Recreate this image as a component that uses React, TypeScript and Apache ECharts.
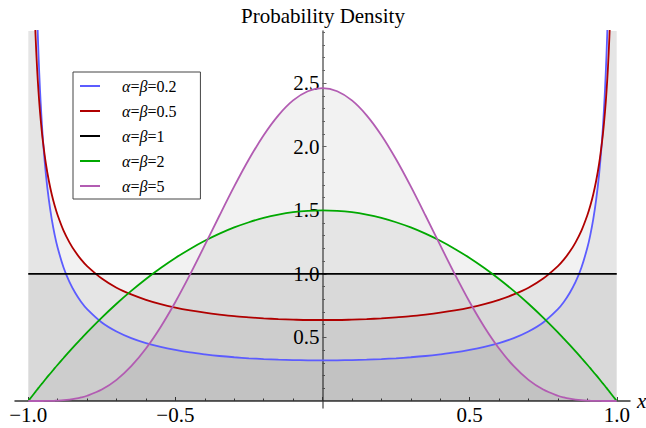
import React, { useEffect, useRef } from "react";
import * as echarts from "echarts";

// x positions (shared by every curve)
const xs = [
  -1, -0.99, -0.98, -0.975, -0.97, -0.965, -0.96, -0.955, -0.95, -0.94, -0.93, -0.92, -0.91, -0.9,
  -0.88, -0.86, -0.84, -0.82, -0.8, -0.75, -0.7, -0.65, -0.6, -0.55, -0.5, -0.45, -0.4, -0.35,
  -0.3, -0.25, -0.2, -0.15, -0.1, -0.05, 0,
  0.05, 0.1, 0.15, 0.2, 0.25, 0.3, 0.35, 0.4, 0.45, 0.5, 0.55, 0.6, 0.65, 0.7, 0.75, 0.8,
  0.82, 0.84, 0.86, 0.88, 0.9, 0.91, 0.92, 0.93, 0.94, 0.95, 0.955, 0.96, 0.965, 0.97, 0.975,
  0.98, 0.99, 1,
];

// α=β=0.2
const a02 = [
  20, 7.326, 4.224, 3.54, 3.067, 2.716, 2.446, 2.231, 2.054, 1.783, 1.583, 1.428, 1.305, 1.205,
  1.05, 0.936, 0.849, 0.779, 0.723, 0.618, 0.547, 0.495, 0.456, 0.426, 0.402, 0.382, 0.367, 0.354,
  0.344, 0.336, 0.33, 0.325, 0.322, 0.32, 0.319,
  0.32, 0.322, 0.325, 0.33, 0.336, 0.344, 0.354, 0.367, 0.382, 0.402, 0.426, 0.456, 0.495, 0.547,
  0.618, 0.723, 0.779, 0.849, 0.936, 1.05, 1.205, 1.305, 1.428, 1.583, 1.783, 2.054, 2.231, 2.446,
  2.716, 3.067, 3.54, 4.224, 7.326, 20,
];

// α=β=0.5
const a05 = [
  10, 4.513, 3.199, 2.865, 2.619, 2.428, 2.274, 2.146, 2.039, 1.866, 1.732, 1.624, 1.535, 1.461,
  1.34, 1.248, 1.173, 1.112, 1.061, 0.963, 0.891, 0.838, 0.796, 0.762, 0.735, 0.713, 0.695, 0.68,
  0.667, 0.658, 0.65, 0.644, 0.64, 0.637, 0.637,
  0.637, 0.64, 0.644, 0.65, 0.658, 0.667, 0.68, 0.695, 0.713, 0.735, 0.762, 0.796, 0.838, 0.891,
  0.963, 1.061, 1.112, 1.173, 1.248, 1.34, 1.461, 1.535, 1.624, 1.732, 1.866, 2.039, 2.146, 2.274,
  2.428, 2.619, 2.865, 3.199, 4.513, 10,
];

// α=β=1
const a1 = [
  1, 1, 1, 1, 1, 1, 1, 1, 1, 1, 1, 1, 1, 1, 1, 1, 1, 1, 1, 1, 1, 1, 1, 1, 1, 1, 1, 1, 1, 1, 1, 1,
  1, 1, 1,
  1, 1, 1, 1, 1, 1, 1, 1, 1, 1, 1, 1, 1, 1, 1, 1, 1, 1, 1, 1, 1, 1, 1, 1, 1, 1, 1, 1, 1, 1, 1, 1,
  1, 1,
];

// α=β=2
const a2 = [
  0, 0.03, 0.059, 0.074, 0.089, 0.103, 0.118, 0.132, 0.146, 0.175, 0.203, 0.23, 0.258, 0.285,
  0.338, 0.391, 0.442, 0.491, 0.54, 0.656, 0.765, 0.866, 0.96, 1.046, 1.125, 1.196, 1.26, 1.316,
  1.365, 1.406, 1.44, 1.466, 1.485, 1.496, 1.5,
  1.496, 1.485, 1.466, 1.44, 1.406, 1.365, 1.316, 1.26, 1.196, 1.125, 1.046, 0.96, 0.866, 0.765,
  0.656, 0.54, 0.491, 0.442, 0.391, 0.338, 0.285, 0.258, 0.23, 0.203, 0.175, 0.146, 0.132, 0.118,
  0.103, 0.089, 0.074, 0.059, 0.03, 0,
];

// α=β=5
const a5 = [
  0, 0, 0, 0, 0, 0.0001, 0.0001, 0.0001, 0.0002, 0.0005, 0.0008, 0.0014, 0.0022, 0.0032,
  0.0064, 0.0113, 0.0185, 0.0283, 0.0413, 0.0902, 0.1665, 0.2737, 0.4129, 0.5825, 0.7786, 0.9955,
  1.2252, 1.4591, 1.6876, 1.901, 2.0902, 2.2468, 2.364, 2.4364, 2.4609,
  2.4364, 2.364, 2.2468, 2.0902, 1.901, 1.6876, 1.4591, 1.2252, 0.9955, 0.7786, 0.5825, 0.4129,
  0.2737, 0.1665, 0.0902, 0.0413, 0.0283, 0.0185, 0.0113, 0.0064, 0.0032, 0.0022, 0.0014, 0.0008,
  0.0005, 0.0002, 0.0001, 0.0001, 0.0001, 0, 0, 0, 0, 0,
];

const seriesNames = ["α=β=0.2", "α=β=0.5", "α=β=1", "α=β=2", "α=β=5"];
const seriesValues = [a02, a05, a1, a2, a5];
const seriesColors = ["#5c5cff", "#b00000", "#000000", "#00a800", "#b25cb2"];

const titleText = "Probability Density";
const xAxisName = "x";
const xMajorTicks = [-1, -0.5, 0, 0.5, 1];
const xLabelTicks = [-1, -0.5, 0.5, 1];
const xMinorTicks = [-0.9, -0.8, -0.7, -0.6, -0.4, -0.3, -0.2, -0.1, 0.1, 0.2, 0.3, 0.4, 0.6, 0.7, 0.8, 0.9];
const yMajorTicks = [0.5, 1, 1.5, 2, 2.5];
const yMinorTicks = [
  0.1, 0.2, 0.3, 0.4, 0.6, 0.7, 0.8, 0.9, 1.1, 1.2, 1.3, 1.4, 1.6, 1.7, 1.8, 1.9, 2.1, 2.2, 2.3,
  2.4, 2.6, 2.7, 2.8, 2.9,
];

const serif = "'Liberation Serif', 'Times New Roman', serif";
const X_MIN = -1.045;
const X_MAX = 1.045;
const Y_MIN = -0.055;
const Y_MAX = 2.91;

const W = 646;
const H = 428;
const GRID = { left: 15, right: 16, top: 31, bottom: 20 };

function fmtX(v: number) {
  const s = Math.abs(v).toFixed(1);
  return v < 0 ? "\u2212" + s : s;
}

export default function App() {
  const ref = useRef<HTMLDivElement>(null);

  useEffect(() => {
    if (!ref.current) return;
    const chart = echarts.init(ref.current, undefined, { renderer: "svg" });

    // place the axes through the origin (labels follow the axis line)
    const gridW = W - GRID.left - GRID.right;
    const gridH = H - GRID.top - GRID.bottom;
    const yAxisOffset = -((0 - X_MIN) / (X_MAX - X_MIN)) * gridW;
    const xAxisOffset = -((0 - Y_MIN) / (Y_MAX - Y_MIN)) * gridH;

    const fillSeries = seriesValues.map((vals, i) => ({
      type: "line",
      name: seriesNames[i] + " fill",
      data: xs.map((x, j) => [x, vals[j]]),
      xAxisIndex: 0,
      yAxisIndex: 0,
      symbol: "none",
      smooth: i === 2 ? false : 0.3,
      silent: true,
      z: 1,
      lineStyle: { width: 0, opacity: 0 },
      areaStyle: { color: "rgba(0,0,0,0.05)", opacity: 1 },
    }));

    const lineSeries = seriesValues.map((vals, i) => ({
      type: "line",
      name: seriesNames[i],
      data: xs.map((x, j) => [x, vals[j]]),
      xAxisIndex: 0,
      yAxisIndex: 0,
      symbol: "none",
      smooth: i === 2 ? false : 0.3,
      z: 2,
      color: seriesColors[i],
      lineStyle: { width: 1.8, color: seriesColors[i] },
    }));

    const xTick = { color: "#444", width: 1 };
    const yTick = { color: "#666", width: 1 };

    chart.setOption({
      animation: false,
      backgroundColor: "#ffffff",
      title: {
        text: titleText,
        left: "center",
        top: 0,
        textStyle: { fontFamily: serif, fontSize: 21, fontWeight: "normal", color: "#000" },
      },
      grid: { ...GRID, containLabel: false, outerBoundsMode: "none" },
      legend: {
        data: seriesNames,
        orient: "vertical",
        left: 73,
        top: 72,
        padding: [6, 24, 5, 7],
        itemGap: 9,
        itemWidth: 20,
        itemHeight: 2,
        icon: "rect",
        backgroundColor: "#ffffff",
        borderColor: "#444",
        borderWidth: 1,
        borderRadius: 0,
        formatter: (n: string) => n.replace("α", "{i|α}").replace("β", "{i|β}"),
        textStyle: {
          fontFamily: serif,
          fontSize: 16,
          lineHeight: 16,
          color: "#000",
          padding: [0, 0, 0, 17],
          rich: {
            i: { fontFamily: serif, fontStyle: "italic", fontSize: 16, lineHeight: 16, color: "#000" },
          },
        },
      },
      xAxis: [
        {
          type: "value",
          min: X_MIN,
          max: X_MAX,
          position: "bottom",
          offset: xAxisOffset,
          name: xAxisName,
          nameLocation: "end",
          nameGap: 7,
          nameTextStyle: { fontFamily: serif, fontStyle: "italic", fontSize: 21, color: "#000" },
          axisLine: { onZero: false, lineStyle: { color: "#333", width: 1.5 } },
          axisTick: { customValues: xMajorTicks, inside: true, length: 4, lineStyle: xTick },
          axisLabel: {
            customValues: xLabelTicks,
            formatter: (v: number) => fmtX(v),
            fontFamily: serif,
            fontSize: 21,
            color: "#000",
            margin: 3,
          },
          splitLine: { show: false },
        },
        {
          type: "value",
          min: X_MIN,
          max: X_MAX,
          position: "bottom",
          offset: xAxisOffset,
          axisLine: { show: false, onZero: false },
          axisTick: { customValues: xMinorTicks, inside: true, length: 2.5, lineStyle: xTick },
          axisLabel: { show: false },
          splitLine: { show: false },
        },
      ],
      yAxis: [
        {
          type: "value",
          min: Y_MIN,
          max: Y_MAX,
          position: "left",
          offset: yAxisOffset,
          axisLine: { onZero: false, lineStyle: { color: "#666", width: 1.5 } },
          axisTick: { customValues: yMajorTicks, inside: true, length: 4, lineStyle: yTick },
          axisLabel: {
            customValues: yMajorTicks,
            formatter: (v: number) => v.toFixed(1),
            fontFamily: serif,
            fontSize: 21,
            color: "#000",
            margin: 3,
          },
          splitLine: { show: false },
        },
        {
          type: "value",
          min: Y_MIN,
          max: Y_MAX,
          position: "left",
          offset: yAxisOffset,
          axisLine: { show: false, onZero: false },
          axisTick: { customValues: yMinorTicks, inside: true, length: 2.5, lineStyle: yTick },
          axisLabel: { show: false },
          splitLine: { show: false },
        },
      ],
      series: [...fillSeries, ...lineSeries],
    });

    return () => chart.dispose();
  }, []);

  return (
    <div
      ref={ref}
      style={{ position: "absolute", left: 0, top: 0, width: W, height: H }}
    />
  );
}
